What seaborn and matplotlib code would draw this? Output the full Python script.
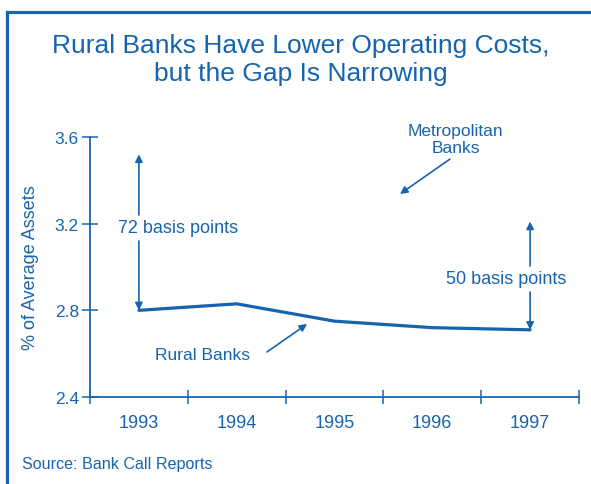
import matplotlib
matplotlib.use("Agg")
import matplotlib.pyplot as plt
import seaborn as sns
import pandas as pd
from matplotlib.lines import Line2D

# Operating costs of rural banks, % of average assets
years = ["1993", "1994", "1995", "1996", "1997"]
rural = [2.80, 2.83, 2.75, 2.72, 2.71]
y_ticks = [2.4, 2.8, 3.2, 3.6]
gap_1993_bp = 72
gap_1997_bp = 50

BLUE = "#1764ae"

sns.set_theme(style="white")
plt.rcParams["font.family"] = ["Liberation Sans", "DejaVu Sans"]

df = pd.DataFrame({"year": years, "cost": rural})

fig = plt.figure(figsize=(5.91, 4.85), dpi=100)
ax = fig.add_axes([90 / 591, 1 - 398 / 485, (579 - 90) / 591, (398 - 138) / 485])

sns.lineplot(data=df, x="year", y="cost", ax=ax, color=BLUE, lw=2.3, sort=False)

ax.set_xlim(-0.5, len(years) - 0.5)
ax.set_ylim(y_ticks[0], y_ticks[-1])

# year labels sit between the boundary ticks
ax.set_xticks(range(len(years)))
ax.set_xticklabels(years)
ax.set_xticks([i - 0.5 for i in range(len(years) + 1)], minor=True)
ax.tick_params(axis="x", which="major", bottom=False, length=0, pad=12,
               labelsize=13, labelcolor=BLUE)
ax.tick_params(axis="x", which="minor", bottom=True, direction="inout", length=10,
               width=1.1, color=BLUE)

ax.set_yticks(y_ticks)
ax.set_yticklabels([f"{v:.1f}" for v in y_ticks])
ax.tick_params(axis="y", which="major", left=True, direction="inout", length=12, width=1.1,
               color=BLUE, labelsize=12.5, labelcolor=BLUE, pad=2)

for side in ("top", "right"):
    ax.spines[side].set_visible(False)
for side in ("left", "bottom"):
    ax.spines[side].set_color(BLUE)
    ax.spines[side].set_linewidth(1.3)

ax.set_xlabel("")
ax.set_ylabel("% of Average Assets", fontsize=13, color=BLUE)
ax.yaxis.set_label_coords(-0.104, 0.5)

arrow = dict(arrowstyle="-|>", color=BLUE, lw=1.2, mutation_scale=11, shrinkA=0, shrinkB=0)

# gap annotation in 1993
x0 = 0
top0 = rural[0] + gap_1993_bp / 100
ax.text(0.40, 3.18, f"{gap_1993_bp} basis points", ha="center", va="center",
        fontsize=13, color=BLUE)
ax.annotate("", xy=(x0, top0), xytext=(x0, 3.24), arrowprops=arrow)
ax.annotate("", xy=(x0, rural[0]), xytext=(x0, 3.12), arrowprops=arrow)

# gap annotation in 1997
x4 = len(years) - 1
top4 = rural[-1] + gap_1997_bp / 100
ax.text(3.76, 2.945, f"{gap_1997_bp} basis points", ha="center", va="center",
        fontsize=13, color=BLUE)
ax.annotate("", xy=(x4, top4), xytext=(x4, 3.005), arrowprops=arrow)
ax.annotate("", xy=(x4, rural[-1]), xytext=(x4, 2.885), arrowprops=arrow)

# series labels
ax.text(3.24, 3.59, "Metropolitan\nBanks", ha="center", va="center",
        fontsize=12.5, color=BLUE, linespacing=1.15)
ax.annotate("", xy=(2.67, 3.337), xytext=(3.18, 3.498), arrowprops=arrow)

ax.text(0.655, 2.598, "Rural Banks", ha="center", va="center", fontsize=12.5, color=BLUE)
ax.annotate("", xy=(1.72, 2.737), xytext=(1.31, 2.608), arrowprops=arrow)

fig.text(301 / 591, 1 - 60 / 485, "Rural Banks Have Lower Operating Costs,\nbut the Gap Is Narrowing",
         ha="center", va="center", fontsize=19, color=BLUE, linespacing=1.2)
fig.text(22 / 591, 1 - 465 / 485, "Source: Bank Call Reports", ha="left", va="center",
         fontsize=11.6, color=BLUE)

# panel frame along the left and top edges
fig.add_artist(Line2D([7 / 591, 7 / 591], [0, 1 - 12.5 / 485], transform=fig.transFigure,
                      color=BLUE, lw=2.3, solid_capstyle="projecting"))
fig.add_artist(Line2D([7 / 591, 1], [1 - 12.5 / 485, 1 - 12.5 / 485], transform=fig.transFigure,
                      color=BLUE, lw=2.3, solid_capstyle="projecting"))

fig.savefig("out.png", dpi=100)
